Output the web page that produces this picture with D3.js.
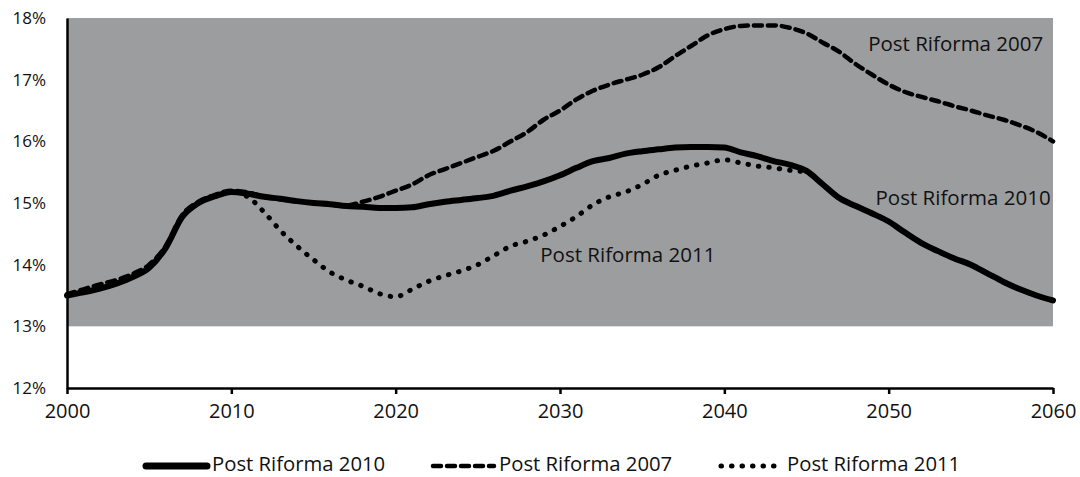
<!DOCTYPE html>
<html>
<head>
<meta charset="utf-8">
<script src="https://cdn.jsdelivr.net/npm/d3@7"></script>
<style>
  html, body { margin: 0; padding: 0; background: #fff; }
  svg { display: block; }
  text { font-family: "Open Sans", sans-serif; fill: #111; }
</style>
</head>
<body>
<svg id="chart" width="1080" height="477"></svg>
<script>
// ---------- DATA ----------
const years = d3.range(2000, 2061);

const seriesNames = ["Post Riforma 2010", "Post Riforma 2007", "Post Riforma 2011"];

const riforma2010 = [
  13.50, 13.55, 13.61, 13.69, 13.80, 13.95, 14.27, 14.77, 15.00, 15.11,
  15.18, 15.15, 15.10, 15.07, 15.03, 15.00, 14.98, 14.95, 14.94, 14.92,
  14.92, 14.93, 14.98, 15.02, 15.05, 15.08, 15.12, 15.20, 15.27, 15.35,
  15.45, 15.57, 15.68, 15.73, 15.80, 15.84, 15.87, 15.90, 15.91, 15.91,
  15.90, 15.82, 15.76, 15.68, 15.62, 15.52, 15.30, 15.08, 14.95, 14.83,
  14.70, 14.52, 14.35, 14.22, 14.10, 14.00, 13.86, 13.72, 13.60, 13.50,
  13.42
];

const riforma2007 = [
  13.52, 13.60, 13.68, 13.75, 13.85, 14.00, 14.30, 14.80, 15.02, 15.13,
  15.20, 15.17, 15.10, 15.06, 15.03, 15.00, 14.97, 14.96, 15.02, 15.10,
  15.20, 15.30, 15.45, 15.55, 15.65, 15.75, 15.85, 16.00, 16.15, 16.35,
  16.50, 16.68, 16.82, 16.92, 17.00, 17.08, 17.20, 17.38, 17.55, 17.72,
  17.82, 17.87, 17.88, 17.88, 17.84, 17.75, 17.60, 17.45, 17.25, 17.08,
  16.92, 16.80, 16.72, 16.65, 16.57, 16.50, 16.42, 16.35, 16.26, 16.15,
  16.00
];

const riforma2011 = [
  13.50, 13.55, 13.61, 13.69, 13.80, 13.95, 14.27, 14.77, 15.00, 15.11,
  15.18, 15.10, 14.85, 14.55, 14.30, 14.08, 13.88, 13.75, 13.65, 13.53,
  13.48, 13.60, 13.73, 13.82, 13.90, 14.00, 14.15, 14.30, 14.38, 14.48,
  14.62, 14.78, 14.97, 15.10, 15.18, 15.30, 15.45, 15.53, 15.60, 15.65,
  15.70, 15.65, 15.60, 15.57, 15.53, 15.50, 15.30, 15.08, 14.95, 14.83,
  14.70, 14.52, 14.35, 14.22, 14.10, 14.00, 13.86, 13.72, 13.60, 13.50,
  13.42
];

const xTicks = [2000, 2010, 2020, 2030, 2040, 2050, 2060];
const yTicks = [12, 13, 14, 15, 16, 17, 18];
const shadeRange = [13, 18];

// ---------- LAYOUT ----------
const svg = d3.select("#chart");
const plot = { left: 67, right: 1053, top: 18, bottom: 388 };

const x = d3.scaleLinear().domain([2000, 2060]).range([plot.left, plot.right]);
const y = d3.scaleLinear().domain([12, 18]).range([plot.bottom, plot.top]);

// shaded band
svg.append("rect")
  .attr("x", x(2000)).attr("width", x(2060) - x(2000))
  .attr("y", y(shadeRange[1])).attr("height", y(shadeRange[0]) - y(shadeRange[1]))
  .attr("fill", "#9c9d9f");

// series definitions
const styles = [
  { name: seriesNames[0], values: riforma2010, width: 6, dash: null },
  { name: seriesNames[1], values: riforma2007, width: 4.5, dash: "8,6" },
  { name: seriesNames[2], values: riforma2011, width: 5, dash: "0.5,10" }
];

const line = d3.line()
  .x((d, i) => x(years[i]))
  .y(d => y(d))
  .curve(d3.curveMonotoneX);

styles.forEach(s => {
  svg.append("path")
    .datum(s.values)
    .attr("d", line)
    .attr("fill", "none")
    .attr("stroke", "#000")
    .attr("stroke-width", s.width)
    .attr("stroke-linecap", "round")
    .attr("stroke-linejoin", "round")
    .attr("stroke-dasharray", s.dash);
});

// axes
const xAxis = d3.axisBottom(x).tickValues(xTicks).tickFormat(d3.format("d")).tickSize(6).tickSizeOuter(0);
const gx = svg.append("g").attr("transform", `translate(0,${plot.bottom})`).call(xAxis);
gx.select(".domain").attr("stroke", "#000").attr("stroke-width", 2.5);
gx.selectAll(".tick line").attr("stroke", "#000").attr("stroke-width", 2.5);
gx.selectAll(".tick text").attr("font-size", 20).attr("dy", "1.05em").attr("fill", "#111")
  .style("font-family", "'Open Sans', sans-serif");

const yAxis = d3.axisLeft(y).tickValues(yTicks).tickFormat(d => d + "%").tickSize(0).tickPadding(21);
const gy = svg.append("g").attr("transform", `translate(${plot.left},0)`).call(yAxis);
gy.select(".domain").attr("stroke", "#000").attr("stroke-width", 2.5);
gy.selectAll(".tick text").attr("font-size", 17).attr("fill", "#111")
  .style("font-family", "'Open Sans', sans-serif");

// in-chart labels
const labels = [
  { text: seriesNames[1], year: 2048.75, val: 17.56 },
  { text: seriesNames[0], year: 2049.2, val: 15.05 },
  { text: seriesNames[2], year: 2028.8, val: 14.14 }
];
labels.forEach(l => {
  svg.append("text")
    .attr("x", x(l.year)).attr("y", y(l.val))
    .attr("font-size", 20.5)
    .attr("dominant-baseline", "middle")
    .text(l.text);
});

// legend
const legendItems = [
  { s: styles[0], x0: 143 },
  { s: styles[1], x0: 430 },
  { s: styles[2], x0: 718 }
];
const ly = 466;
legendItems.forEach(it => {
  svg.append("line")
    .attr("x1", it.x0 + 3).attr("x2", it.x0 + 64)
    .attr("y1", ly).attr("y2", ly)
    .attr("stroke", "#000")
    .attr("stroke-width", it.s === styles[0] ? 7 : it.s.width)
    .attr("stroke-linecap", "round")
    .attr("stroke-dasharray", it.s.dash);
  svg.append("text")
    .attr("x", it.x0 + 69).attr("y", ly)
    .attr("font-size", 20.3)
    .attr("dominant-baseline", "middle")
    .text(it.s.name);
});
</script>
</body>
</html>
